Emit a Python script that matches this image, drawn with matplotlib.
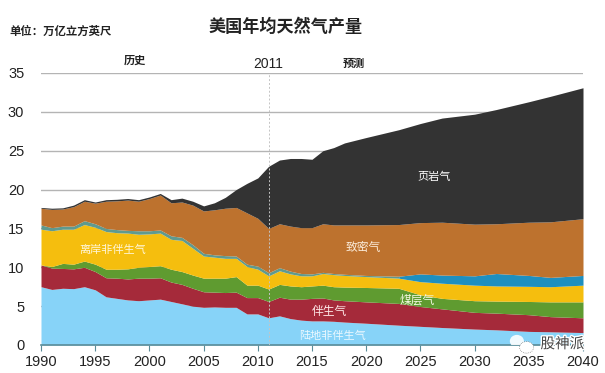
import matplotlib
matplotlib.use('Agg')
import matplotlib.pyplot as plt
import numpy as np
from matplotlib.patches import Ellipse
import matplotlib.patheffects as pe

plt.rcParams['font.family'] = ['Noto Sans CJK SC', 'DejaVu Sans']

# data, top edge of each stacked layer
years = list(range(1990, 2018)) + [2018, 2020, 2023, 2025, 2027, 2030, 2032, 2035, 2037, 2040]
onshore = [7.5, 7.15, 7.3, 7.25, 7.5, 7.1, 6.2, 6.0, 5.8, 5.7, 5.8, 5.9, 5.6, 5.3, 5.0, 4.85, 4.9, 4.85, 4.85, 4.0,
           4.0, 3.5, 3.75, 3.4, 3.2, 3.1, 3.1, 3.05, 2.95, 2.8, 2.55, 2.4, 2.25, 2.05, 1.95, 1.75, 1.7, 1.6]
associated = [10.3, 9.9, 9.85, 9.8, 10.0, 9.45, 8.65, 8.6, 8.5, 8.6, 8.6, 8.65, 8.1, 7.8, 7.3, 6.85, 6.8, 6.75, 6.8, 6.1,
              6.1, 5.6, 6.15, 5.9, 5.9, 6.0, 6.05, 5.8, 5.7, 5.55, 5.35, 4.95, 4.65, 4.2, 4.1, 3.9, 3.65, 3.5]
coalbed = [10.3, 10.1, 10.5, 10.4, 10.8, 10.4, 9.75, 9.75, 9.8, 10.0, 10.1, 10.2, 9.75, 9.45, 9.0, 8.6, 8.6, 8.6, 8.8, 7.7,
           7.7, 7.2, 7.8, 7.6, 7.5, 7.6, 7.7, 7.5, 7.45, 7.4, 7.3, 6.45, 6.0, 5.7, 5.65, 5.6, 5.55, 5.55]
offshore = [14.9, 14.7, 14.9, 14.9, 15.5, 15.15, 14.6, 14.45, 14.4, 14.25, 14.3, 14.4, 13.6, 13.45, 12.45, 11.45, 11.3, 11.15, 11.15, 10.1,
            9.75, 8.9, 9.55, 9.15, 8.9, 8.9, 9.2, 9.05, 8.95, 8.8, 8.6, 8.15, 7.95, 7.7, 7.6, 7.55, 7.5, 7.7]
alaska = [15.45, 15.1, 15.3, 15.3, 16.0, 15.6, 15.0, 14.85, 14.75, 14.7, 14.7, 14.8, 14.05, 13.85, 12.9, 11.8, 11.6, 11.5, 11.45, 10.4,
          10.15, 9.3, 9.95, 9.5, 9.2, 9.15, 9.35, 9.2, 9.1, 8.95, 8.85, 9.15, 9.0, 8.9, 9.2, 8.95, 8.7, 8.95]
tight = [17.6, 17.45, 17.5, 17.8, 18.5, 18.25, 18.5, 18.55, 18.65, 18.5, 18.85, 19.3, 18.3, 18.4, 18.0, 17.25, 17.4, 17.6, 17.7, 17.0,
         16.3, 15.0, 15.6, 15.3, 15.1, 15.1, 15.6, 15.45, 15.45, 15.45, 15.5, 15.75, 15.8, 15.55, 15.6, 15.8, 15.85, 16.25]
shale = [17.7, 17.6, 17.65, 18.0, 18.7, 18.4, 18.7, 18.75, 18.85, 18.7, 19.05, 19.5, 18.7, 18.9, 18.5, 17.9, 18.3, 19.0, 20.0, 20.8,
         21.5, 23.0, 23.8, 24.0, 24.0, 23.9, 25.0, 25.4, 26.0, 26.7, 27.7, 28.5, 29.2, 29.7, 30.3, 31.3, 32.0, 33.1]

x_ticks = [1990, 1995, 2000, 2005, 2010, 2015, 2020, 2025, 2030, 2035, 2040]
y_ticks = [0, 5, 10, 15, 20, 25, 30, 35]

fig = plt.figure(figsize=(6.05, 3.73), dpi=100)
ax = fig.add_axes([41 / 605, 28 / 373, 542 / 605, 272 / 373])

x = np.array(years)
ax.fill_between(x, 0, onshore, color='#87D3F8', lw=0, zorder=2)
ax.fill_between(x, onshore, associated, color='#A52A3A', lw=0, zorder=2)
ax.fill_between(x, associated, coalbed, color='#5F9B30', lw=0, zorder=2)
ax.fill_between(x, coalbed, offshore, color='#F5BE0E', lw=0, zorder=2)
ax.fill_between(x, offshore, alaska, where=x <= 2023, color='#5F9A8F', lw=0, zorder=2)
ax.fill_between(x, offshore, alaska, where=x >= 2023, color='#1E8FBF', lw=0, zorder=2)
ax.fill_between(x, alaska, tight, color='#BD722E', lw=0, zorder=2)
ax.fill_between(x, tight, shale, color='#333333', lw=0, zorder=2)

ax.set_xlim(1990, 2040)
ax.set_ylim(0, 35)
ax.set_xticks(x_ticks)
ax.set_yticks(y_ticks)
ax.grid(axis='y', color='#B4B4B4', lw=1, zorder=1)
ax.set_axisbelow(True)
for s in ['top', 'right', 'left']:
    ax.spines[s].set_visible(False)
ax.spines['bottom'].set_color('#5A8C98')
ax.spines['bottom'].set_linewidth(1.2)
ax.spines['bottom'].set_zorder(3)
ax.tick_params(axis='y', length=0, pad=12, labelsize=10.5, labelcolor='#222222')
ax.tick_params(axis='x', length=4, color='#5A8C98', pad=3, labelsize=10.5, labelcolor='#222222')
for lab in ax.get_xticklabels() + ax.get_yticklabels():
    lab.set_family(['Liberation Sans', 'DejaVu Sans'])

ax.axvline(2011, color='#C4C4C4', lw=0.7, ls=(0, (2, 2)), zorder=4)

fig.text(286 / 605, 1 - 27 / 373, '美国年均天然气产量', fontsize=12.3, fontweight='bold', color='#222222', ha='center', va='center')
fig.text(9 / 605, 1 - 31 / 373, '单位：万亿立方英尺', fontsize=8.2, fontweight='bold', color='#222222', ha='left', va='center')
fig.text(135 / 605, 1 - 60 / 373, '历史', fontsize=8, fontweight='bold', color='#222222', ha='center', va='center')
fig.text(354 / 605, 1 - 63 / 373, '预测', fontsize=8, fontweight='bold', color='#222222', ha='center', va='center')
fig.text(268 / 605, 1 - 64 / 373, '2011', fontsize=10, family=['Liberation Sans', 'DejaVu Sans'], color='#222222', ha='center', va='center')

ax.text(2026.3, 21.6, '页岩气', fontsize=8, color='white', fontweight='medium', ha='center', va='center', zorder=5)
ax.text(2019.7, 12.5, '致密气', fontsize=8.5, color='#FBEBD8', fontweight='medium', ha='center', va='center', zorder=5)
ax.text(1996.6, 12.2, '离岸非伴生气', fontsize=8, color='#FFF6D8', fontweight='medium', ha='center', va='center', zorder=5)
ax.text(2016.6, 4.25, '伴生气', fontsize=8.5, color='#FFE8E8', fontweight='medium', ha='center', va='center', zorder=5)
ax.text(2024.7, 5.8, '煤层气', fontsize=8.5, color='#F2F7E0', fontweight='medium', ha='center', va='center', zorder=5)
ax.text(2016.9, 1.2, '陆地非伴生气', fontsize=8, color='#EAF8FF', fontweight='medium', ha='center', va='center', zorder=5)

# watermark in the lower right corner
ax.add_patch(Ellipse((2033.9, 0.5), 1.3, 1.6, fc='white', ec='none', alpha=0.9, zorder=6))
ax.add_patch(Ellipse((2034.8, -0.3), 1.3, 1.5, fc='white', ec='#666666', lw=0.5, ls=':', zorder=6, clip_on=False))
ax.text(2038.1, 0.1, '股神派', fontsize=10.5, color='#444444', ha='center', va='center', zorder=6,
        path_effects=[pe.withStroke(linewidth=2, foreground='white')])

fig.savefig('out.png', dpi=100)
